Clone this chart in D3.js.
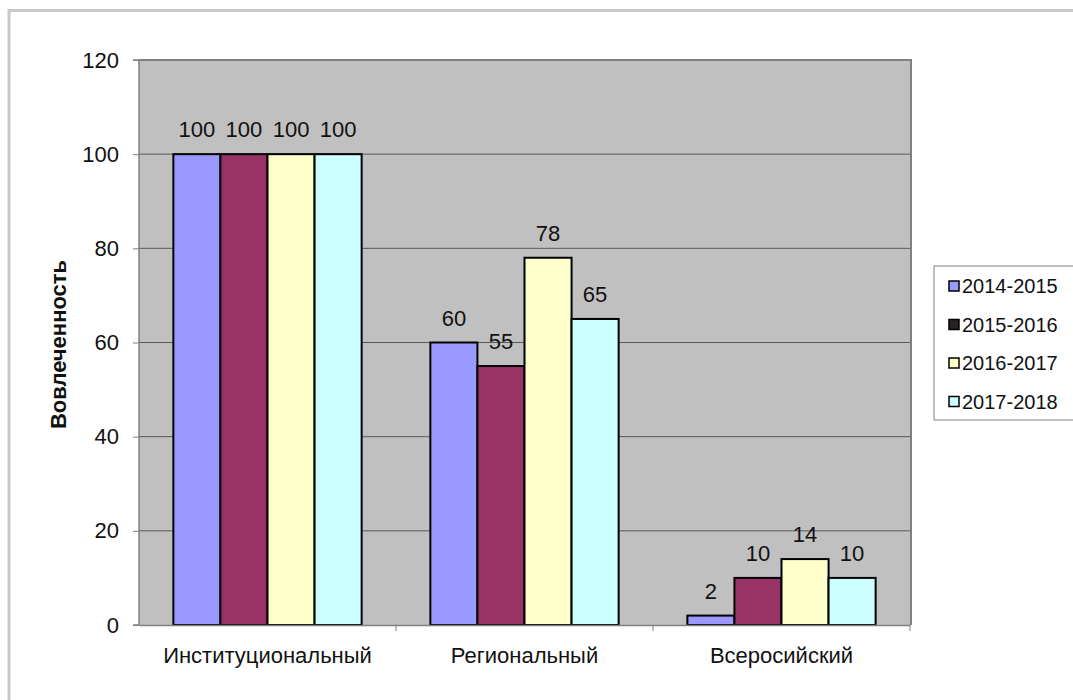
<!DOCTYPE html>
<html>
<head>
<meta charset="utf-8">
<script src="https://cdn.jsdelivr.net/npm/d3@7"></script>
<style>
  body { margin: 0; background: #fff; }
  svg { font-family: "Liberation Sans", Arial, sans-serif; }
</style>
</head>
<body>
<svg id="chart" width="1073" height="700"></svg>
<script>
var categories = ["Институциональный", "Региональный", "Всеросийский"];
var seriesNames = ["2014-2015", "2015-2016", "2016-2017", "2017-2018"];
var s2014 = [100, 60, 2];
var s2015 = [100, 55, 10];
var s2016 = [100, 78, 14];
var s2017 = [100, 65, 10];
var yTicks = [0, 20, 40, 60, 80, 100, 120];
var colors = ["#9999ff", "#993366", "#ffffcc", "#ccffff"];
var legendSwatch = ["#9999ff", "#2a2326", "#ffffcc", "#ccffff"];

var allSeries = [s2014, s2015, s2016, s2017];

var svg = d3.select("#chart");

// outer chart frame
svg.append("path")
    .attr("d", "M9,700 V10.5 H1073")
    .style("fill", "none")
    .style("stroke", "#c8c8c8")
    .style("stroke-width", 3);

var plot = { left: 139, top: 60, right: 910, bottom: 625 };

var x = d3.scaleBand()
    .domain(categories)
    .range([plot.left, plot.right]);

var inner = d3.scaleBand()
    .domain(d3.range(seriesNames.length))
    .range([0, x.bandwidth()])
    .paddingOuter(0.73)
    .paddingInner(0);

var y = d3.scaleLinear()
    .domain([0, 120])
    .range([plot.bottom, plot.top]);

// plot background
svg.append("rect")
    .attr("x", plot.left)
    .attr("y", plot.top)
    .attr("width", plot.right - plot.left)
    .attr("height", plot.bottom - plot.top)
    .style("fill", "#c0c0c0");

// gridlines
svg.append("g")
    .selectAll("line")
    .data(yTicks.filter(function (d) { return d > 0; }))
    .enter().append("line")
    .attr("x1", plot.left)
    .attr("x2", plot.right)
    .attr("y1", function (d) { return y(d); })
    .attr("y2", function (d) { return y(d); })
    .style("stroke", "#5a5a5a")
    .style("stroke-width", 1);

// plot border right / top
svg.append("path")
    .attr("d", "M" + plot.left + "," + plot.top + " H" + (plot.right + 1) + " V" + plot.bottom)
    .style("fill", "none")
    .style("stroke", "#808080")
    .style("stroke-width", 2);

// bars
var groups = svg.append("g")
    .selectAll("g")
    .data(categories)
    .enter().append("g")
    .attr("transform", function (d) { return "translate(" + x(d) + ",0)"; });

groups.each(function (cat, ci) {
    var g = d3.select(this);
    allSeries.forEach(function (s, si) {
        g.append("rect")
            .attr("x", inner(si))
            .attr("y", y(s[ci]))
            .attr("width", inner.bandwidth())
            .attr("height", y(0) - y(s[ci]))
            .style("fill", colors[si])
            .style("stroke", "#000")
            .style("stroke-width", 2);
        g.append("text")
            .attr("x", inner(si) + inner.bandwidth() / 2)
            .attr("y", y(s[ci]) - 17)
            .attr("text-anchor", "middle")
            .style("font-size", "22px")
            .style("fill", "#111")
            .text(s[ci]);
    });
});

// y axis
var yAxis = d3.axisLeft(y)
    .tickValues(yTicks)
    .tickSize(6)
    .tickPadding(14);
var yg = svg.append("g")
    .attr("transform", "translate(" + plot.left + ",0)")
    .call(yAxis);
yg.selectAll("text").style("font-size", "22px").style("fill", "#111");
yg.selectAll("line, path").style("stroke", "#808080");
yg.select(".domain").attr("d", "M-6," + plot.top + "H0V" + plot.bottom + "H-6").style("stroke-width", 1.5);

// x axis
var xAxis = d3.axisBottom(x)
    .tickSize(0)
    .tickPadding(22);
var xg = svg.append("g")
    .attr("transform", "translate(0," + plot.bottom + ")")
    .call(xAxis);
xg.select(".domain").style("stroke", "#808080").style("stroke-width", 1.5);
xg.selectAll("text").style("font-size", "22px").style("fill", "#111");
xg.selectAll(".sep")
    .data(categories.slice(1).concat(["end"]))
    .enter().append("line")
    .attr("class", "sep")
    .attr("x1", function (d, i) { return i < categories.length - 1 ? x(d) : plot.right; })
    .attr("x2", function (d, i) { return i < categories.length - 1 ? x(d) : plot.right; })
    .attr("y1", 0)
    .attr("y2", 6)
    .style("stroke", "#808080");

// y label
svg.append("text")
    .attr("transform", "translate(66," + ((plot.top + plot.bottom) / 2 + 2) + ") rotate(-90)")
    .attr("text-anchor", "middle")
    .style("font-size", "22px")
    .style("font-weight", "bold")
    .style("fill", "#111")
    .text("Вовлеченность");

// legend
var legend = svg.append("g").attr("transform", "translate(934,266)");
legend.append("rect")
    .attr("width", 150)
    .attr("height", 154)
    .style("fill", "#fff")
    .style("stroke", "#808080")
    .style("stroke-width", 1);
var items = legend.selectAll(".item")
    .data(seriesNames)
    .enter().append("g")
    .attr("class", "item")
    .attr("transform", function (d, i) { return "translate(15," + (20 + i * 38.5) + ")"; });
items.append("rect")
    .attr("x", 0)
    .attr("y", -5)
    .attr("width", 10)
    .attr("height", 10)
    .style("fill", function (d, i) { return legendSwatch[i]; })
    .style("stroke", "#000")
    .style("stroke-width", 1.5);
items.append("text")
    .attr("x", 13)
    .attr("y", 7)
    .style("font-size", "20px")
    .style("fill", "#111")
    .text(function (d) { return d; });
</script>
</body>
</html>
